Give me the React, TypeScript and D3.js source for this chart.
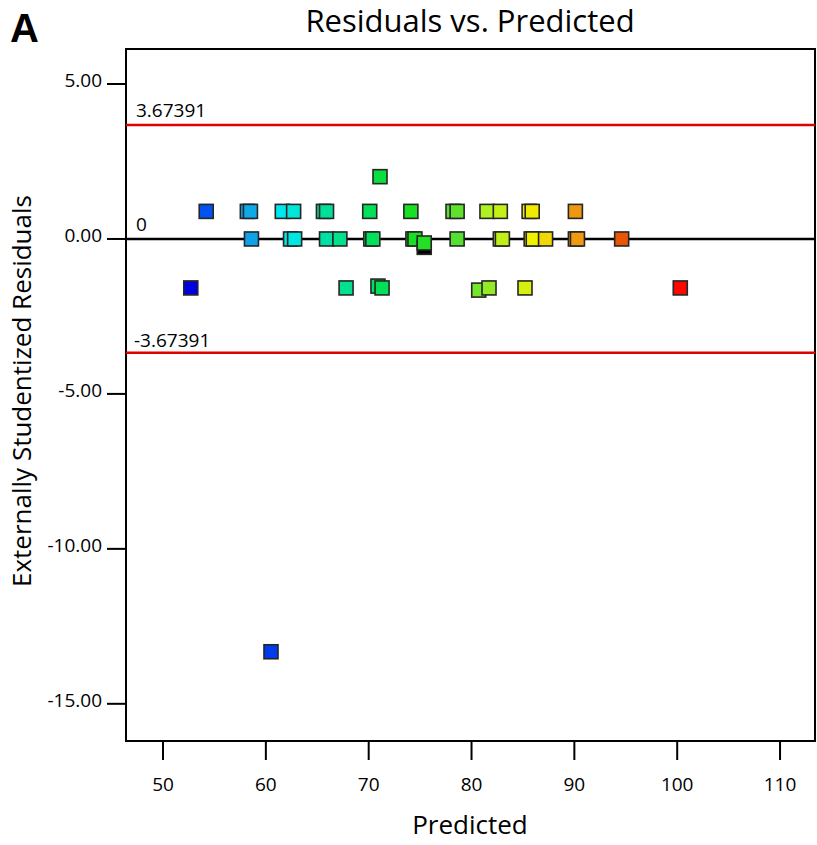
import React from 'react';
import * as d3 from 'd3';

// predicted values and externally studentized residuals
const predicted = [
  54.2, 58.2, 58.5, 61.6, 62.7, 65.6, 65.9, 70.1, 74.1, 78.2, 78.6, 81.5, 82.8, 85.6, 85.9, 90.1,
  58.6, 62.4, 62.8, 65.9, 67.2, 70.2, 70.4, 74.3, 74.5, 78.6, 82.8, 83.0, 85.8, 86.0, 87.2, 90.1, 90.3, 94.6,
  75.4, 75.4,
  52.7, 67.8, 70.9, 71.3, 80.7, 81.7, 85.2, 100.3,
  71.1, 60.5,
];
const residuals = [
  0.89, 0.89, 0.89, 0.89, 0.89, 0.89, 0.89, 0.89, 0.89, 0.89, 0.89, 0.89, 0.89, 0.89, 0.89, 0.89,
  0, 0, 0, 0, 0, 0, 0, 0, 0, 0, 0, 0, 0, 0, 0, 0, 0, 0,
  -0.27, -0.13,
  -1.58, -1.58, -1.52, -1.58, -1.65, -1.58, -1.58, -1.58,
  2.01, -13.32,
];
// index of the highlighted (black) run
const highlighted = [34];

const xTicks = [50, 60, 70, 80, 90, 100, 110];
const yTicks = [5, 0, -5, -10, -15];
const limit = 3.67391;

const colorStops = [52, 54.5, 58.5, 62, 66, 70, 74, 78.5, 82, 86, 90, 95, 100];
const colorRange = [
  '#0000e0', '#0050f0', '#10a0e8', '#00e8f0', '#00e0a0', '#00e060', '#10e020',
  '#50e030', '#b0f020', '#f0f000', '#f0a010', '#e85000', '#ff0000',
];

const W = 817;
const H = 845;
const left = 126;
const right = 815;
const top = 49;
const bottom = 741;

const font = '"Open Sans", "Noto Sans", sans-serif';

const App = () => {
  const x = d3.scaleLinear().domain([46.4, 113.4]).range([left, right]);
  const y = d3.scaleLinear().domain([6.13, -16.2]).range([top, bottom]);
  const color = d3
    .scaleLinear<string>()
    .domain(colorStops)
    .range(colorRange)
    .clamp(true);

  const size = 14;

  return (
    <div style={{ position: 'absolute', left: 0, top: 0 }}>
      <svg width={W} height={H} style={{ display: 'block', background: '#fff' }}>
        <text x={10} y={42} fontFamily='"Liberation Sans", Arial, sans-serif' fontWeight="bold" fontSize={40}>
          A
        </text>
        <text x={470} y={32} textAnchor="middle" fontFamily={font} fontSize={31}>
          Residuals vs. Predicted
        </text>

        {/* frame */}
        <rect x={left} y={top} width={right - left} height={bottom - top} fill="none" stroke="#000" strokeWidth={2} />

        {/* y axis */}
        {yTicks.map(t => (
          <g key={t}>
            <line x1={107} x2={left} y1={y(t)} y2={y(t)} stroke="#000" strokeWidth={2} />
            <text x={102} y={y(t) + 3} textAnchor="end" fontFamily={font} fontSize={19}>
              {t.toFixed(2)}
            </text>
          </g>
        ))}

        {/* x axis */}
        {xTicks.map(t => (
          <g key={t}>
            <line x1={x(t)} x2={x(t)} y1={bottom} y2={bottom + 19} stroke="#000" strokeWidth={2} />
            <text x={x(t)} y={791} textAnchor="middle" fontFamily={font} fontSize={19}>
              {t}
            </text>
          </g>
        ))}

        <text x={470} y={834} textAnchor="middle" fontFamily={font} fontSize={26}>
          Predicted
        </text>
        <text
          transform={`translate(31,391) rotate(-90)`}
          textAnchor="middle"
          fontFamily={font}
          fontSize={26}
        >
          Externally Studentized Residuals
        </text>

        {/* limit lines */}
        <line x1={left} x2={right} y1={y(limit)} y2={y(limit)} stroke="#e00000" strokeWidth={2.5} />
        <line x1={left} x2={right} y1={y(-limit)} y2={y(-limit)} stroke="#e00000" strokeWidth={2.5} />
        <line x1={left} x2={right} y1={y(0)} y2={y(0)} stroke="#000" strokeWidth={2.5} />
        <text x={136} y={y(limit) - 8} fontFamily={font} fontSize={19}>
          {limit}
        </text>
        <text x={136} y={y(0) - 8} fontFamily={font} fontSize={19}>
          0
        </text>
        <text x={134} y={y(-limit) - 6} fontFamily={font} fontSize={19}>
          {'-' + limit}
        </text>

        {/* points */}
        {predicted.map((p, i) => {
          const r = residuals[i];
          const fill = highlighted.includes(i) ? '#000' : color(p + 0.5 * r);
          return (
            <rect
              key={i}
              x={x(p) - size / 2}
              y={y(r) - size / 2}
              width={size}
              height={size}
              fill={fill}
              stroke="#262626"
              strokeWidth={1.6}
            />
          );
        })}
      </svg>
    </div>
  );
};

export default App;
